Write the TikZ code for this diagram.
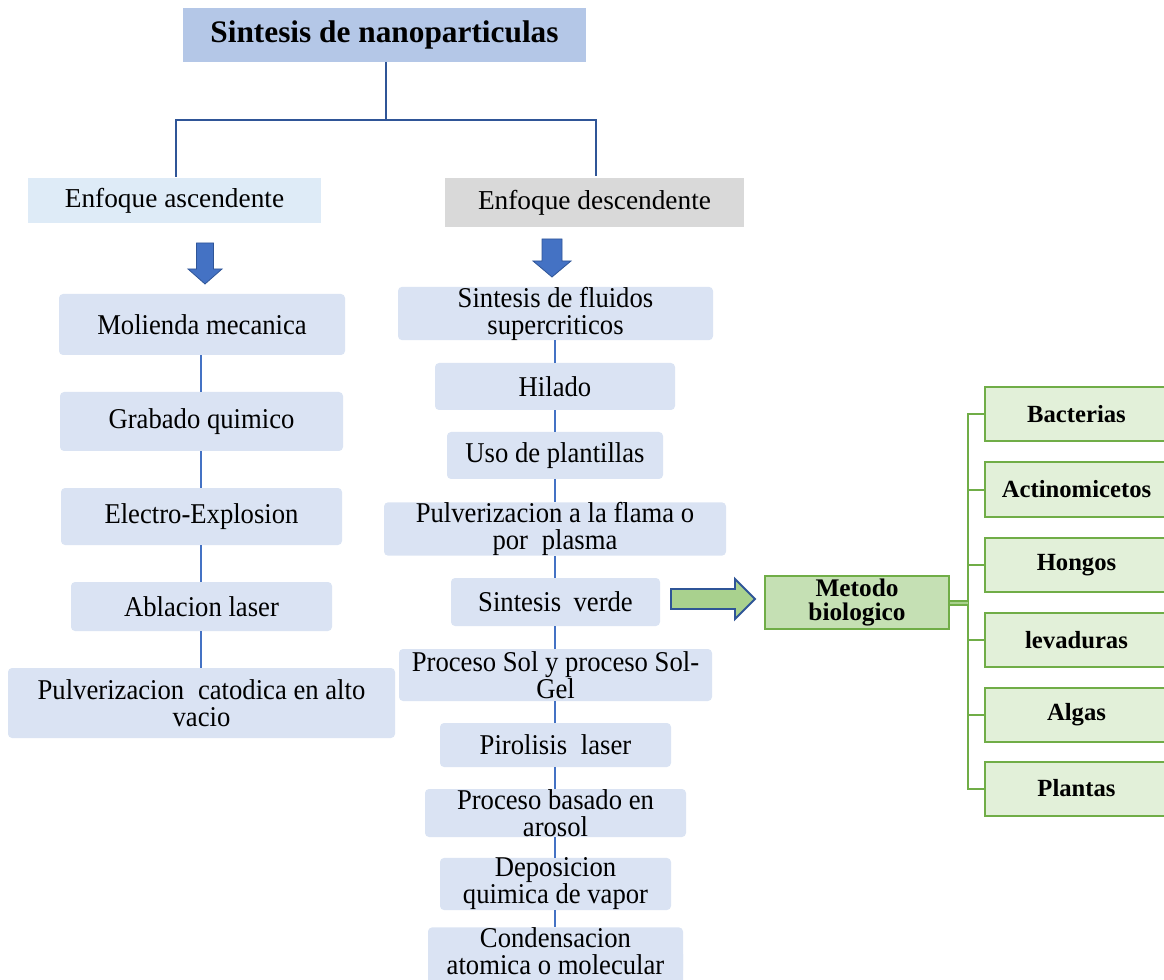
\documentclass[tikz,border=0pt]{standalone}
\usepackage{fontspec}
\setmainfont{Liberation Serif}
\newfontfamily\stepfont[FakeStretch=0.93]{Liberation Serif}
\definecolor{titlefill}{HTML}{B4C7E7}
\definecolor{ascfill}{HTML}{DEEBF7}
\definecolor{descfill}{HTML}{D9D9D9}
\definecolor{boxfill}{HTML}{DAE3F3}
\definecolor{linedark}{HTML}{2F5597}
\definecolor{linemid}{HTML}{4472C4}
\definecolor{garrowfill}{HTML}{A9D18E}
\definecolor{metfill}{HTML}{C5E0B4}
\definecolor{gborder}{HTML}{70AD47}
\definecolor{gboxfill}{HTML}{E2F0D9}
\def\pxu{0.75pt}
\begin{document}
\begin{tikzpicture}[x=0.75pt,y=-0.75pt,
  base/.style={inner sep=0pt, align=center, font=\fontsize{20.5}{20.25}\selectfont},
  titlebox/.style={base, fill=titlefill, font=\fontsize{23.5}{24}\selectfont\bfseries},
  headbox/.style={base},
  stepbox/.style={base, fill=boxfill, rounded corners=3pt, font=\stepfont\fontsize{21.5}{20.25}\selectfont},
  gbox/.style={base, fill=gboxfill, draw=gborder, line width=1.5pt, font=\fontsize{18.5}{18}\selectfont\bfseries},
  metbox/.style={base, fill=metfill, draw=gborder, line width=1.5pt, font=\fontsize{19}{17.5}\selectfont\bfseries},
  tree/.style={draw=linedark, line width=1.5pt},
  conn/.style={draw=linemid, line width=1.5pt},
  gline/.style={draw=gborder, line width=1.5pt},
  bluearrow/.style={fill=linemid, draw=linedark, line width=0.6pt, line join=miter},
  greenarrow/.style={fill=garrowfill, draw=linedark, line width=1.4pt, line join=miter},
]
\useasboundingbox (0,0) rectangle (1164,980);

% top
\node[titlebox, minimum width=403*\pxu, minimum height=54*\pxu] (title) at (384.5,35) {Sintesis de nanoparticulas};
\node[headbox, fill=ascfill, minimum width=293*\pxu, minimum height=45*\pxu] (asc) at (174.5,200.5) {Enfoque ascendente};
\node[headbox, fill=descfill, minimum width=299*\pxu, minimum height=49*\pxu] (desc) at (594.5,202.5) {Enfoque descendente};
\coordinate (tj) at (386,120);
\draw[tree] (386,62) -- (tj);
\draw[tree] (176,177) |- (tj) -| (596,176);

% blue block arrows
\coordinate (ardl) at (205,243);
\draw[bluearrow] (ardl) ++(-8.5,0) -- ++(17,0) -- ++(0,26) -- ++(8.5,0) -- ++(-17,15) -- ++(-17,-15) -- ++(8.5,0) -- cycle;
\coordinate (ardr) at (552,239);
\draw[bluearrow] (ardr) ++(-10,0) -- ++(20,0) -- ++(0,22) -- ++(9,0) -- ++(-19,16) -- ++(-19,-16) -- ++(9,0) -- cycle;

% left column
\node[stepbox, minimum width=286*\pxu, minimum height=61*\pxu] (L1) at (202,324.5) {Molienda mecanica};
\node[stepbox, minimum width=283*\pxu, minimum height=59*\pxu] (L2) at (201.5,421.5) {Grabado quimico};
\node[stepbox, minimum width=281*\pxu, minimum height=57*\pxu] (L3) at (201.5,516.5) {Electro-Explosion};
\node[stepbox, minimum width=261*\pxu, minimum height=49*\pxu] (L4) at (201.5,606.5) {Ablacion laser};
\node[stepbox, minimum width=387*\pxu, minimum height=70*\pxu] (L5) at (201.5,703) {Pulverizacion\hspace{0.25em} catodica en alto\\vacio};
\foreach \a/\b in {L1/L2,L2/L3,L3/L4,L4/L5}
  \draw[conn] (\a.south -| 201,0) -- (\b.north -| 201,0);

% right column
\node[stepbox, minimum width=315*\pxu, minimum height=53*\pxu] (R1) at (555.5,313.5) {Sintesis de fluidos\\supercriticos};
\node[stepbox, minimum width=240*\pxu, minimum height=47*\pxu] (R2) at (555,386.5) {Hilado};
\node[stepbox, minimum width=216*\pxu, minimum height=47*\pxu] (R3) at (555,455.5) {Uso de plantillas};
\node[stepbox, minimum width=342*\pxu, minimum height=52*\pxu] (R4) at (555,529) {Pulverizacion a la flama o\\por\hspace{0.25em} plasma};
\node[stepbox, minimum width=209*\pxu, minimum height=48*\pxu] (R5) at (555.5,602) {Sintesis\hspace{0.2em} verde};
\node[stepbox, minimum width=313*\pxu, minimum height=52*\pxu] (R6) at (555.5,675) {Proceso Sol y proceso Sol-\\Gel};
\node[stepbox, minimum width=231*\pxu, minimum height=44*\pxu] (R7) at (555.5,745) {Pirolisis\hspace{0.25em} laser};
\node[stepbox, minimum width=261*\pxu, minimum height=48*\pxu] (R8) at (555.5,813) {Proceso basado en\\arosol};
\node[stepbox, minimum width=231*\pxu, minimum height=48*\pxu] (R9) at (555.5,884) {Deposicion\\quimica de vapor};
\fill[boxfill, rounded corners=3pt] (428,950) rectangle (683,990);
\node[stepbox, minimum width=255*\pxu, minimum height=38*\pxu] (R10) at (555.5,951) {Condensacion\\atomica o molecular};
\foreach \a/\b in {R1/R2,R2/R3,R3/R4,R4/R5,R5/R6,R6/R7,R7/R8,R8/R9,R9/R10}
  \draw[conn] (\a.south -| 555,0) -- (\b.north -| 555,0);

% metodo biologico
\node[metbox, minimum width=184*\pxu, minimum height=53*\pxu] (met) at (857,602.5) {Metodo\\biologico};

% green block arrow
\coordinate (garrow) at (671,599);
\draw[greenarrow] (garrow) ++(0,-10) -- ++(64,0) -- ++(0,-10) -- ++(20,20) -- ++(-20,20) -- ++(0,-10) -- ++(-64,0) -- cycle;

% green boxes
\node[gbox, minimum width=183*\pxu, minimum height=54*\pxu] (G1) at (1076.5,414) {Bacterias};
\node[gbox, minimum width=183*\pxu, minimum height=54*\pxu] (G2) at (1076.5,489.5) {Actinomicetos};
\node[gbox, minimum width=183*\pxu, minimum height=54*\pxu] (G3) at (1076.5,565) {Hongos};
\node[gbox, minimum width=183*\pxu, minimum height=54*\pxu] (G4) at (1076.5,640) {levaduras};
\node[gbox, minimum width=183*\pxu, minimum height=54*\pxu] (G5) at (1076.5,715) {Algas};
\node[gbox, minimum width=183*\pxu, minimum height=54*\pxu] (G6) at (1076.5,788.5) {Plantas};

\coordinate (gt) at (968,414);
\coordinate (gb) at (968,788.5);
\draw[gline] (G1.west) -- (gt) -- (gb) -- (G6.west);
\foreach \g in {G2,G3,G4,G5}
  \draw[gline] (\g.west) -- (\g.west -| gt);
\draw[draw=gborder, line width=1.5pt, double=garrowfill, double distance=1.5pt] (met.east) -- (met.east -| gt);
\end{tikzpicture}
\end{document}
